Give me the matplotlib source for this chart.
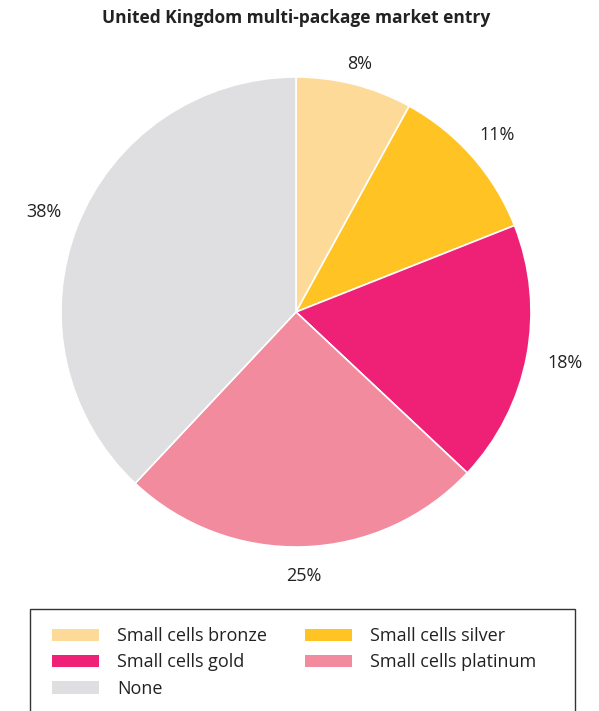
import matplotlib

matplotlib.use("Agg")
import matplotlib.pyplot as plt
import numpy as np
from matplotlib.patches import Patch, Rectangle

plt.rcParams["font.family"] = ["Open Sans", "DejaVu Sans"]

TITLE = "United Kingdom multi-package market entry"
categories = [
    "Small cells bronze",
    "Small cells silver",
    "Small cells gold",
    "Small cells platinum",
    "None",
]
shares = [8, 11, 18, 25, 38]
colors = ["#FDDA97", "#FFC324", "#EE2176", "#F38B9F", "#DFDEE0"]

W, H = 599, 711
fig = plt.figure(figsize=(W / 100, H / 100), dpi=100)

# pie centre and radius in pixels
cx, cy, r = 296, 312, 235
ax = fig.add_axes([(cx - r) / W, (H - cy - r) / H, 2 * r / W, 2 * r / H])
wedges, _, pcts = ax.pie(
    shares,
    colors=colors,
    startangle=90,
    counterclock=False,
    radius=1,
    autopct="%.0f%%",
    pctdistance=1.12,
    wedgeprops=dict(edgecolor="white", linewidth=1.2),
    textprops=dict(fontsize=13, color="#222222"),
)
# nudge each percentage label out from the rim by its own amount
label_dist = [1.09, 1.14, 1.165, 1.125, 1.155]
for w, t, d in zip(wedges, pcts, label_dist):
    mid = np.deg2rad((w.theta1 + w.theta2) / 2)
    t.set_position((d * np.cos(mid), d * np.sin(mid)))
ax.set_xlim(-1, 1)
ax.set_ylim(-1, 1)
ax.set_aspect("equal")
ax.axis("off")

fig.text(cx / W, 1 - 18 / H, TITLE, ha="center", va="center",
         fontsize=12.5, fontweight="bold", color="#222222")

# legend box runs off the bottom edge
fig.add_artist(Rectangle((30 / W, -0.05), 545 / W, (H - 609) / H + 0.05,
                         transform=fig.transFigure, facecolor="none",
                         edgecolor="#333333", linewidth=1))

# column-major order so the rows read bronze/silver, gold/platinum, none
order = [0, 2, 4, 1, 3]
handles = [Patch(facecolor=colors[i], edgecolor="none") for i in order]
labels = [categories[i] for i in order]
fig.legend(
    handles, labels,
    loc="upper left", bbox_to_anchor=(52 / W, 1 - 627 / H),
    ncol=2, frameon=False, fontsize=13,
    handlelength=2.6, handleheight=0.67, handletextpad=1.0,
    columnspacing=2.08, labelspacing=0.47, borderpad=0, borderaxespad=0,
    labelcolor="#222222",
)

fig.savefig("out.png", dpi=100)
